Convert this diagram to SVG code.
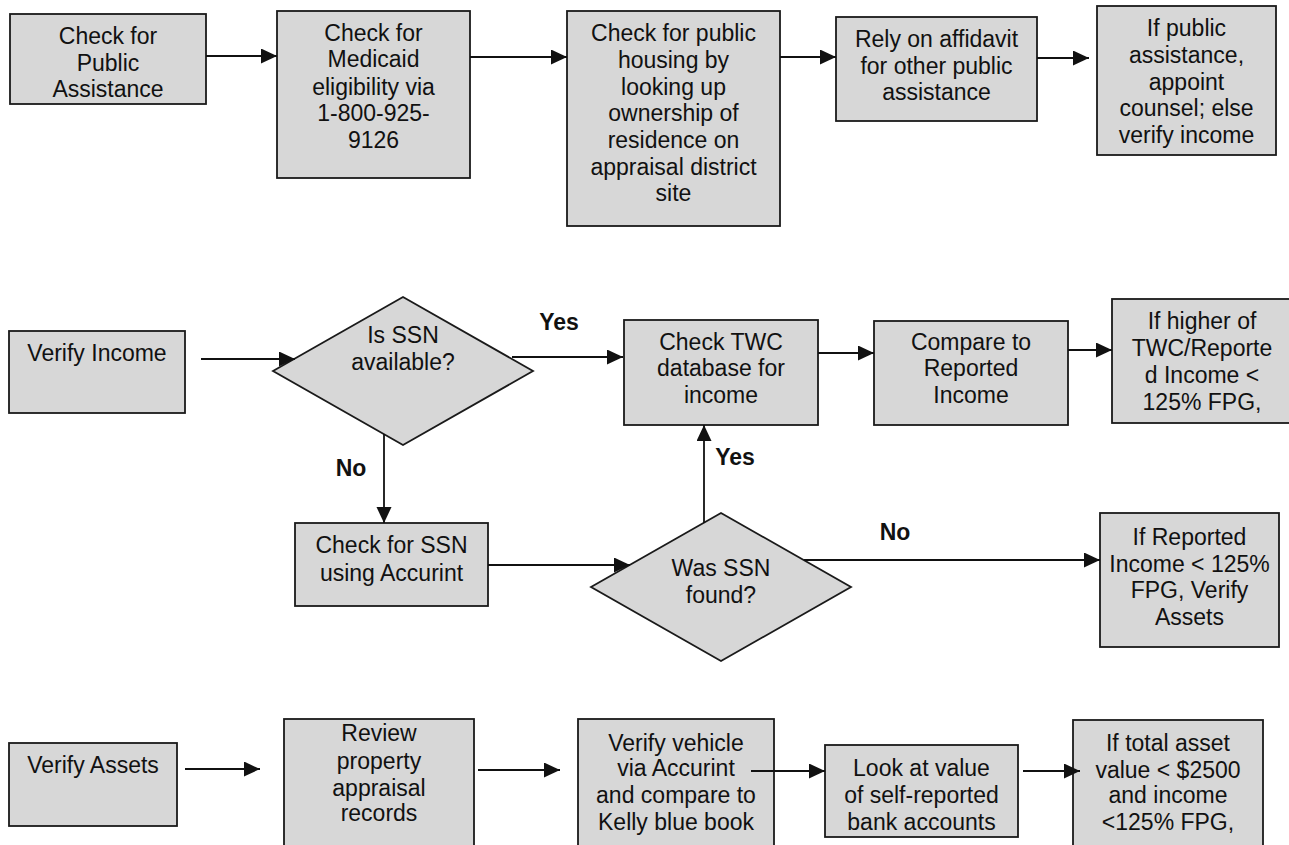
<svg xmlns="http://www.w3.org/2000/svg" width="1289" height="845" viewBox="0 0 1289 845">
<style>
.b{fill:#d7d7d7;stroke:#1a1a1a;stroke-width:1.8}
.t{font-family:"Liberation Sans",Arial,sans-serif;font-size:23px;fill:#111;text-anchor:middle}
.l{font-family:"Liberation Sans",Arial,sans-serif;font-size:23px;font-weight:bold;fill:#111;text-anchor:middle}
.c{stroke:#111;stroke-width:1.8;fill:none;marker-end:url(#ah)}
</style>
<defs>
<marker id="ah" markerUnits="userSpaceOnUse" markerWidth="18" markerHeight="16" refX="16" refY="7.5" orient="auto">
<path d="M0,0 L16,7.5 L0,15 z" fill="#111"/>
</marker>
</defs>
<rect width="1289" height="845" fill="#fff"/>

<g id="n1"><rect class="b" x="10" y="14" width="196" height="90"/>
<text class="t" x="108"><tspan x="108" y="44">Check for</tspan><tspan x="108" y="71">Public</tspan><tspan x="108" y="97">Assistance</tspan></text></g>

<g id="n2"><rect class="b" x="277" y="11" width="193" height="167"/>
<text class="t"><tspan x="373.5" y="41">Check for</tspan><tspan x="373.5" y="67">Medicaid</tspan><tspan x="373.5" y="95">eligibility via</tspan><tspan x="373.5" y="121">1-800-925-</tspan><tspan x="373.5" y="148">9126</tspan></text></g>

<g id="n3"><rect class="b" x="567" y="11" width="213" height="215"/>
<text class="t"><tspan x="673.5" y="41">Check for public</tspan><tspan x="673.5" y="68">housing by</tspan><tspan x="673.5" y="95">looking up</tspan><tspan x="673.5" y="121">ownership of</tspan><tspan x="673.5" y="148">residence on</tspan><tspan x="673.5" y="175">appraisal district</tspan><tspan x="673.5" y="201">site</tspan></text></g>

<g id="n4"><rect class="b" x="836" y="17" width="201" height="104"/>
<text class="t"><tspan x="936.5" y="47">Rely on affidavit</tspan><tspan x="936.5" y="74">for other public</tspan><tspan x="936.5" y="100">assistance</tspan></text></g>

<g id="n5"><rect class="b" x="1097" y="6" width="179" height="149"/>
<text class="t"><tspan x="1186.5" y="36">If public</tspan><tspan x="1186.5" y="63">assistance,</tspan><tspan x="1186.5" y="90">appoint</tspan><tspan x="1186.5" y="116">counsel; else</tspan><tspan x="1186.5" y="143">verify income</tspan></text></g>

<g id="n6"><rect class="b" x="9" y="331" width="176" height="82"/>
<text class="t" x="97" y="361">Verify Income</text></g>

<g id="n7"><polygon class="b" points="273,371 403,297 533,371 403,445"/>
<text class="t"><tspan x="403" y="343">Is SSN</tspan><tspan x="403" y="370">available?</tspan></text></g>

<g id="n8"><rect class="b" x="624" y="320" width="194" height="105"/>
<text class="t"><tspan x="721" y="350">Check TWC</tspan><tspan x="721" y="376">database for</tspan><tspan x="721" y="403">income</tspan></text></g>

<g id="n9"><rect class="b" x="874" y="321" width="194" height="104"/>
<text class="t"><tspan x="971" y="350">Compare to</tspan><tspan x="971" y="376">Reported</tspan><tspan x="971" y="403">Income</tspan></text></g>

<g id="n10"><rect class="b" x="1112" y="299" width="180" height="124"/>
<text class="t"><tspan x="1202" y="329">If higher of</tspan><tspan x="1202" y="356">TWC/Reporte</tspan><tspan x="1202" y="383">d Income &lt;</tspan><tspan x="1202" y="410">125% FPG,</tspan></text></g>

<g id="n11"><rect class="b" x="295" y="523" width="193" height="83"/>
<text class="t"><tspan x="391.5" y="553">Check for SSN</tspan><tspan x="391.5" y="581">using Accurint</tspan></text></g>

<g id="n12"><polygon class="b" points="591,587 721,513 851,587 721,661"/>
<text class="t"><tspan x="721" y="576">Was SSN</tspan><tspan x="721" y="603">found?</tspan></text></g>

<g id="n13"><rect class="b" x="1100" y="513" width="179" height="134"/>
<text class="t"><tspan x="1189.5" y="545">If Reported</tspan><tspan x="1189.5" y="572">Income &lt; 125%</tspan><tspan x="1189.5" y="598">FPG, Verify</tspan><tspan x="1189.5" y="625">Assets</tspan></text></g>

<g id="n14"><rect class="b" x="9" y="743" width="168" height="83"/>
<text class="t" x="93" y="773">Verify Assets</text></g>

<g id="n15"><rect class="b" x="284" y="719" width="190" height="132"/>
<text class="t"><tspan x="379" y="741">Review</tspan><tspan x="379" y="769">property</tspan><tspan x="379" y="796">appraisal</tspan><tspan x="379" y="821">records</tspan></text></g>

<g id="n16"><rect class="b" x="578" y="719" width="196" height="132"/>
<text class="t"><tspan x="676" y="751">Verify vehicle</tspan><tspan x="676" y="776">via Accurint</tspan><tspan x="676" y="803">and compare to</tspan><tspan x="676" y="830">Kelly blue book</tspan></text></g>

<g id="n17"><rect class="b" x="825" y="745" width="193" height="92"/>
<text class="t"><tspan x="921.5" y="776">Look at value</tspan><tspan x="921.5" y="803">of self-reported</tspan><tspan x="921.5" y="830">bank accounts</tspan></text></g>

<g id="n18"><rect class="b" x="1073" y="720" width="190" height="131"/>
<text class="t"><tspan x="1168" y="751">If total asset</tspan><tspan x="1168" y="778">value &lt; $2500</tspan><tspan x="1168" y="803">and income</tspan><tspan x="1168" y="830">&lt;125% FPG,</tspan></text></g>

<g id="connectors">
<line class="c" x1="206" y1="56" x2="277" y2="56"/>
<line class="c" x1="470" y1="57" x2="567" y2="57"/>
<line class="c" x1="780" y1="57" x2="836" y2="57"/>
<line class="c" x1="1037" y1="58" x2="1089" y2="58"/>
<line class="c" x1="201" y1="359" x2="295" y2="359"/>
<line class="c" x1="512" y1="357" x2="623" y2="357"/>
<line class="c" x1="818" y1="353" x2="874" y2="353"/>
<line class="c" x1="1068" y1="350" x2="1112" y2="350"/>
<line class="c" x1="384" y1="434" x2="384" y2="523"/>
<line class="c" x1="488" y1="565" x2="630" y2="565"/>
<line class="c" x1="704" y1="523" x2="704" y2="425"/>
<line class="c" x1="804" y1="560" x2="1100" y2="560"/>
<line class="c" x1="185" y1="769" x2="260" y2="769"/>
<line class="c" x1="478" y1="770" x2="560" y2="770"/>
<line class="c" x1="751" y1="771" x2="825" y2="771"/>
<line class="c" x1="1023" y1="771" x2="1080" y2="771"/>
<text class="l" x="559" y="330">Yes</text>
<text class="l" x="351" y="476">No</text>
<text class="l" x="735" y="465">Yes</text>
<text class="l" x="895" y="540">No</text>
</g>
</svg>
